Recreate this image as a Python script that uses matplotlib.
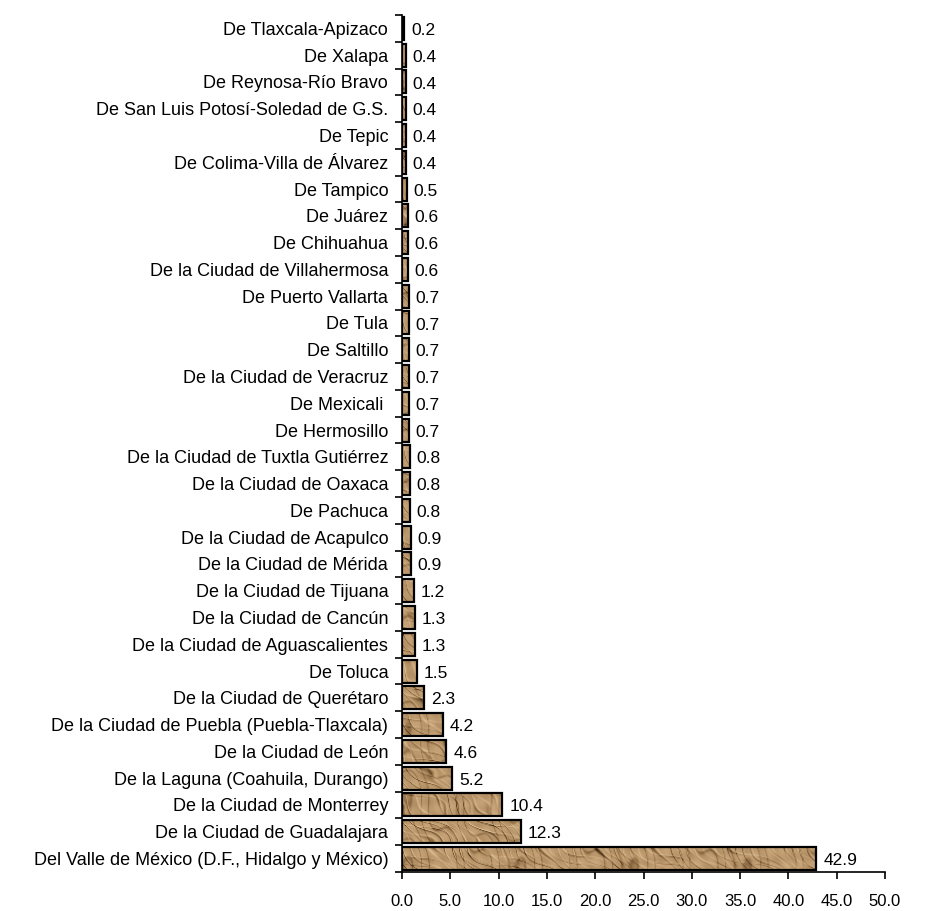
import numpy as np
import matplotlib
matplotlib.use("Agg")
from matplotlib import pyplot as plt
from matplotlib.colors import LinearSegmentedColormap

plt.rcParams['font.family'] = ['Liberation Sans', 'DejaVu Sans']

# zonas metropolitanas, de abajo hacia arriba
zonas = [
    "Del Valle de México (D.F., Hidalgo y México)",
    "De la Ciudad de Guadalajara",
    "De la Ciudad de Monterrey",
    "De la Laguna (Coahuila, Durango)",
    "De la Ciudad de León",
    "De la Ciudad de Puebla (Puebla-Tlaxcala)",
    "De la Ciudad de Querétaro",
    "De Toluca",
    "De la Ciudad de Aguascalientes",
    "De la Ciudad de Cancún",
    "De la Ciudad de Tijuana",
    "De la Ciudad de Mérida",
    "De la Ciudad de Acapulco",
    "De Pachuca",
    "De la Ciudad de Oaxaca",
    "De la Ciudad de Tuxtla Gutiérrez",
    "De Hermosillo",
    "De Mexicali ",
    "De la Ciudad de Veracruz",
    "De Saltillo",
    "De Tula",
    "De Puerto Vallarta",
    "De la Ciudad de Villahermosa",
    "De Chihuahua",
    "De Juárez",
    "De Tampico",
    "De Colima-Villa de Álvarez",
    "De Tepic",
    "De San Luis Potosí-Soledad de G.S.",
    "De Reynosa-Río Bravo",
    "De Xalapa",
    "De Tlaxcala-Apizaco",
]
valores = [42.9, 12.3, 10.4, 5.2, 4.6, 4.2, 2.3, 1.5, 1.3, 1.3, 1.2, 0.9, 0.9,
           0.8, 0.8, 0.8, 0.7, 0.7, 0.7, 0.7, 0.7, 0.7, 0.6, 0.6, 0.6, 0.5,
           0.4, 0.4, 0.4, 0.4, 0.4, 0.2]
xticks = [0, 5, 10, 15, 20, 25, 30, 35, 40, 45, 50]

fig = plt.figure(figsize=(9.35, 9.11), dpi=100)
ax = fig.add_axes([0.43, 0.043, 0.5165, 0.9405])

pos = np.arange(len(zonas))
bars = ax.barh(pos, valores, height=0.86, facecolor='none',
               edgecolor='black', linewidth=1.6, zorder=3)

# textura tipo papel arrugado: grietas diagonales (patron determinista)
u, v = np.meshgrid(np.arange(490.0), np.arange(860.0))
def grieta(a, b, lam, w1, w2, fase):
    ph = 2 * np.pi / lam * (a * u + b * v) + 1.6 * np.sin(u / w1 + fase) + 1.3 * np.sin(v / w2 - fase)
    return np.exp(-np.sin(ph) ** 2 / 0.04), np.exp(-np.sin(ph - 0.35) ** 2 / 0.04)
c1, h1 = grieta(0.75, 0.66, 17, 9.0, 7.0, 0.3)
c2, h2 = grieta(0.55, 0.84, 23, 13.0, 5.5, 1.7)
c3, h3 = grieta(0.9, 0.43, 29, 6.0, 11.0, 2.9)
tex = (0.62 - 0.5 * c1 * (0.5 + 0.5 * np.sin(u / 11 + v / 7))
       - 0.35 * c2 * (0.5 + 0.5 * np.sin(u / 8 - v / 13))
       - 0.25 * c3
       + 0.2 * h1 + 0.15 * h2
       + 0.06 * np.sin(u / 5.3 + v / 3.7) * np.sin(u / 4.1 - v / 6.2))
tex = np.clip(tex, 0, 1)
cmap = LinearSegmentedColormap.from_list('papel', ['#3E2812', '#8A6840', '#C4A074', '#E6CFA8'])
for b in bars:
    im = ax.imshow(tex, extent=(0, 50.7, 31.59, -0.5), cmap=cmap, vmin=0, vmax=1,
                   aspect='auto', interpolation='bilinear', zorder=2)
    im.set_clip_path(b)

for p, v in zip(pos, valores):
    ax.annotate(f"{v:.1f}", (v, p), xytext=(5, -1.5), textcoords='offset points',
                va='center', ha='left', fontsize=12.5)

ax.set_xlim(0, 50)
ax.set_ylim(-0.5, len(zonas) - 0.5)
ax.set_xticks(xticks)
ax.set_xticklabels([f"{t:.1f}" for t in xticks], fontsize=12)
ax.set_yticks(pos)
ax.set_yticklabels(zonas, fontsize=13)
ax.set_yticks(np.arange(len(zonas) + 1) - 0.5, minor=True)
ax.tick_params(axis='y', which='major', length=0, pad=10)
ax.tick_params(axis='y', which='minor', length=5, width=1.2, direction='out')
ax.tick_params(axis='x', length=5, width=1.2, pad=11)
for s in ['top', 'right']:
    ax.spines[s].set_visible(False)
ax.spines['left'].set_linewidth(1.2)
ax.spines['bottom'].set_linewidth(1.2)

fig.savefig("out.png", dpi=100)
